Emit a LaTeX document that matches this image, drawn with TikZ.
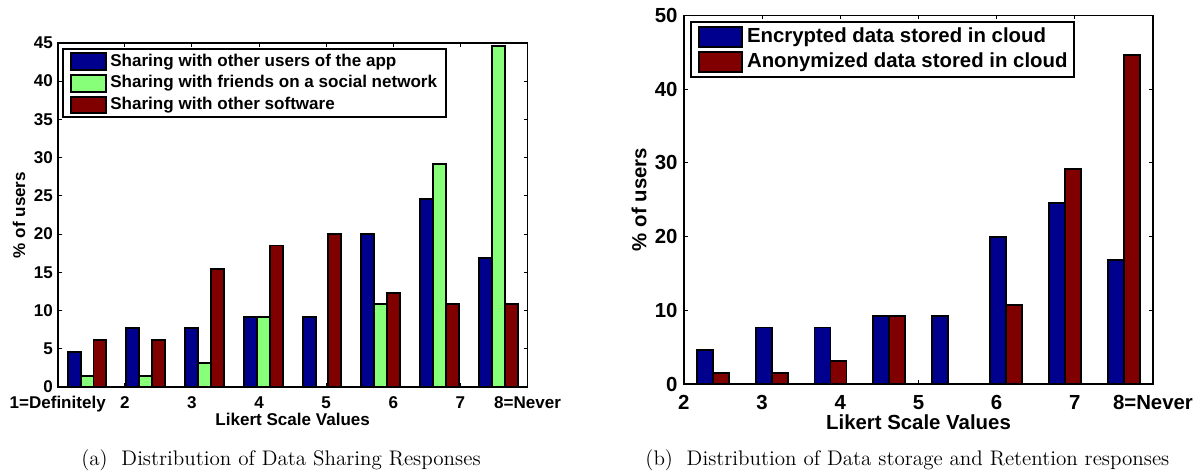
\documentclass[tikz,border=0pt]{standalone}
\usepackage{fontspec}
\setsansfont{Liberation Sans}
\usetikzlibrary{positioning}
\definecolor{barblue}{RGB}{0,0,143}
\definecolor{bargreen}{RGB}{136,255,120}
\definecolor{barred}{RGB}{128,0,0}

\begin{document}
\begin{tikzpicture}[x=0.02cm,y=0.02cm,
 barbox/.style={draw,line width=1.1pt},
 axbox/.style={draw,line width=1pt},
 tickmark/.style={line width=0.6pt},
 laba/.style={font=\sffamily\bfseries\fontsize{9.7}{11}\selectfont,inner sep=0pt},
 labb/.style={font=\sffamily\bfseries\fontsize{11.6}{13}\selectfont,inner sep=0pt},
 captext/.style={font=\fontsize{12}{14}\selectfont,inner sep=0pt}]
\useasboundingbox (0,0) rectangle (1200,476);

% (a) data sharing
\begin{scope}[xshift=1.154cm,yshift=1.78cm,x=1.3428cm,y=0.153cm]
\foreach \t in {0,...,7} {
 \draw[tickmark] (\t,0) -- ++(0,0.08cm);
 \draw[tickmark] (\t,45) -- ++(0,-0.08cm);
}
\foreach \v in {0,5,...,45} {
 \draw[tickmark] (0,\v) -- ++(0.08cm,0);
 \draw[tickmark] (7,\v) -- ++(-0.08cm,0);
 \node[laba,anchor=east,xshift=-0.09cm] (ya\v) at (0,\v) {\v};
}
\foreach \i/\u/\f/\o in {1/4.6/1.5/6.2,2/7.7/1.5/6.2,3/7.7/3.1/15.4,4/9.2/9.2/18.5,
  5/9.2/0/20.0,6/20.0/10.8/12.3,7/24.6/29.2/10.8,8/16.9/44.6/10.8} {
 \pgfmathsetmacro\c{0.875*(\i-0.5)}
 \draw[barbox,fill=barblue] (\c-0.288,0) rectangle (\c-0.096,\u);
 \draw[barbox,fill=bargreen] (\c-0.096,0) rectangle (\c+0.096,\f);
 \draw[barbox,fill=barred] (\c+0.096,0) rectangle (\c+0.288,\o);
}
\draw[axbox] (0,0) rectangle (7,45);
\foreach \t/\l in {0/1=Definitely,1/2,2/3,3/4,4/5,5/6,6/7,7/8=Never}
 \node[laba,anchor=base,yshift=-0.43cm] (xa\t) at (\t,0) {\l};
\end{scope}
\node[laba,anchor=base] (xtitA) at (292.7,50) {Likert Scale Values};
\node[laba,rotate=90] (ytitA) at (19,261) {\% of users};
\node[captext,anchor=base] (capA) at (281,10) {(a)\ \ Distribution of Data Sharing Responses};

% legend (a)
\draw[line width=1pt,fill=white] (63.3,427) rectangle (446,359.3);
\foreach \r/\y/\col/\txt in {1/414.3/barblue/Sharing with other users of the app,
  2/392.7/bargreen/Sharing with friends on a social network,
  3/371/barred/Sharing with other software} {
 \draw[barbox,fill=\col] (70.7,\y-8.3) rectangle (106,\y+8.3);
 \node[laba,anchor=west] (legA\r) at (110,\y) {\txt};
}

% (b) storage and retention
\begin{scope}[xshift=13.68cm,yshift=1.834cm,x=1.564cm,y=0.1476cm]
\foreach \t in {0,...,6} {
 \draw[tickmark] (\t,0) -- ++(0,0.08cm);
 \draw[tickmark] (\t,50) -- ++(0,-0.08cm);
}
\foreach \v in {0,10,...,50} {
 \draw[tickmark] (0,\v) -- ++(0.08cm,0);
 \draw[tickmark] (6,\v) -- ++(-0.08cm,0);
 \node[labb,anchor=east,xshift=-0.12cm] (yb\v) at (0,\v) {\v};
}
\foreach \i/\u/\o in {1/4.6/1.5,2/7.7/1.5,3/7.7/3.1,4/9.2/9.2,
  5/9.2/0,6/20.0/10.8,7/24.6/29.2,8/16.9/44.6} {
 \pgfmathsetmacro\c{0.75*(\i-0.5)}
 \draw[barbox,fill=barblue] (\c-0.2046,0) rectangle (\c,\u);
 \draw[barbox,fill=barred] (\c,0) rectangle (\c+0.2046,\o);
}
\draw[axbox] (0,0) rectangle (6,50);
\foreach \t/\l in {0/2,1/3,2/4,3/5,4/6,5/7,6/8=Never}
 \node[labb,anchor=base,yshift=-0.5cm] (xb\t) at (\t,0) {\l};
\end{scope}
\node[labb,anchor=base] (xtitB) at (918.5,46.5) {Likert Scale Values};
\node[labb,rotate=90] (ytitB) at (639,276.5) {\% of users};
\node[captext,anchor=base] (capB) at (907.4,10) {(b)\ \ Distribution of Data storage and Retention responses};

% legend (b)
\draw[line width=1pt,fill=white] (691,454.3) rectangle (1074,398.7);
\foreach \r/\y/\col/\txt in {1/439/barblue/Encrypted data stored in cloud,
  2/414/barred/Anonymized data stored in cloud} {
 \draw[barbox,fill=\col] (699,\y-10) rectangle (742,\y+10);
 \node[labb,anchor=west] (legB\r) at (746.7,\y) {\txt};
}
\end{tikzpicture}
\end{document}
